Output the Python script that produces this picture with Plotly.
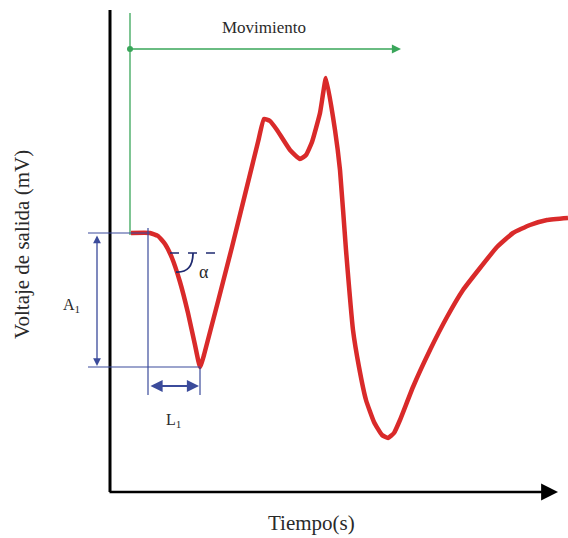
import plotly.graph_objects as go

# Red signal (time in px-like units, voltage in arbitrary units)
tiempo = [131, 150, 158, 165, 172, 180, 188, 195, 200, 204, 232, 258, 264, 270, 277, 290, 300, 306, 312,
          320, 326, 335, 340, 346, 353, 359, 366, 374, 382, 388, 394, 400, 413, 430, 447, 463, 480, 497,
          513, 530, 547, 568]
voltaje = [305, 305, 302, 294, 280, 256, 225, 193, 171, 183, 291, 396, 419, 417, 408, 388, 379, 383, 396,
           425, 460, 408, 368, 288, 208, 171, 138, 116, 103, 100, 105, 118, 151, 188, 221, 248, 270, 291,
           305, 313, 318, 320]

# Annotation reference values
v_base = 305      # start level
v_min = 171       # first minimum
t_start = 148     # L1 start
t_min = 200       # L1 end
v_alpha = 285     # dashed tangent level
t_mov = 130       # movement onset
v_mov = 489       # movement arrow level

RED = "#d92a2a"
BLUE = "#3b4b9b"
NAVY = "#1f2a70"
GREEN = "#3aa65a"
TXT = "#2a2a2a"
FONT = "Liberation Serif"

fig = go.Figure()

shapes = [
    # y axis
    dict(type="line", x0=110, x1=110, y0=46, y1=528, line=dict(color="black", width=3)),
    # green onset line
    dict(type="line", x0=t_mov, x1=t_mov, y0=303, y1=525, line=dict(color=GREEN, width=1.3)),
    # blue guide lines
    dict(type="line", x0=88, x1=150, y0=v_base, y1=v_base, line=dict(color=BLUE, width=1.2)),
    dict(type="line", x0=88, x1=t_min, y0=v_min, y1=v_min, line=dict(color=BLUE, width=1.2)),
    dict(type="line", x0=t_start, x1=t_start, y0=143, y1=310, line=dict(color=BLUE, width=1.2)),
    dict(type="line", x0=t_min, x1=t_min, y0=143, y1=v_min, line=dict(color=BLUE, width=1.2)),
    # dashed tangent
    dict(type="line", x0=170, x1=216, y0=v_alpha, y1=v_alpha, line=dict(color=NAVY, width=1.6, dash="dash")),
    # alpha arc
    dict(type="path", path="M 193,285 Q 193,265 176,266", line=dict(color=NAVY, width=1.8)),
]

fig.add_trace(go.Scatter(x=tiempo, y=voltaje, mode="lines",
                         line=dict(color=RED, width=4.5, shape="spline", smoothing=0.4),
                         hoverinfo="skip", showlegend=False))
fig.add_trace(go.Scatter(x=[t_mov], y=[v_mov], mode="markers",
                         marker=dict(color=GREEN, size=6), hoverinfo="skip", showlegend=False))

annotations = [
    # x axis arrow
    dict(x=558, y=46, ax=108, ay=46, xref="x", yref="y", axref="x", ayref="y", text="",
         showarrow=True, arrowhead=2, arrowsize=1.3, arrowwidth=2.6, arrowcolor="black"),
    # movement arrow
    dict(x=401, y=v_mov, ax=t_mov, ay=v_mov, xref="x", yref="y", axref="x", ayref="y", text="",
         showarrow=True, arrowhead=2, arrowsize=1.4, arrowwidth=1.3, arrowcolor=GREEN),
    # A1 double arrow
    dict(x=97, y=v_min + 1, ax=97, ay=v_base - 1, xref="x", yref="y", axref="x", ayref="y", text="",
         showarrow=True, arrowhead=2, startarrowhead=2, arrowside="end+start", arrowsize=1.2,
         startarrowsize=1.2, arrowwidth=1.3, arrowcolor=BLUE),
    # L1 double arrow
    dict(x=t_min - 1, y=152, ax=t_start + 1, ay=152, xref="x", yref="y", axref="x", ayref="y", text="",
         showarrow=True, arrowhead=2, startarrowhead=2, arrowside="end+start", arrowsize=1.1,
         startarrowsize=1.1, arrowwidth=2.2, arrowcolor=BLUE),
    dict(x=264, y=511, text="Movimiento", showarrow=False, xref="x", yref="y",
         font=dict(family=FONT, size=17, color=TXT)),
    dict(x=311, y=15, text="Tiempo(s)", showarrow=False, xref="x", yref="y",
         font=dict(family=FONT, size=21, color=TXT)),
    dict(x=22, y=293, text="Voltaje de salida (mV)", showarrow=False, xref="x", yref="y", textangle=-90,
         font=dict(family=FONT, size=21, color=TXT)),
    dict(x=71, y=233, text="A<sub>1</sub>", showarrow=False, xref="x", yref="y",
         font=dict(family=FONT, size=16, color=TXT)),
    dict(x=173, y=118, text="L<sub>1</sub>", showarrow=False, xref="x", yref="y",
         font=dict(family=FONT, size=16, color=TXT)),
    dict(x=204, y=266, text="α", showarrow=False, xref="x", yref="y",
         font=dict(family=FONT, size=18, color=TXT)),
]

fig.update_layout(
    width=568, height=538,
    margin=dict(l=0, r=0, t=0, b=0),
    paper_bgcolor="white", plot_bgcolor="white",
    xaxis=dict(range=[0, 568], visible=False, fixedrange=True),
    yaxis=dict(range=[0, 538], visible=False, fixedrange=True),
    shapes=shapes, annotations=annotations, showlegend=False,
)

fig.write_html("out.html")
